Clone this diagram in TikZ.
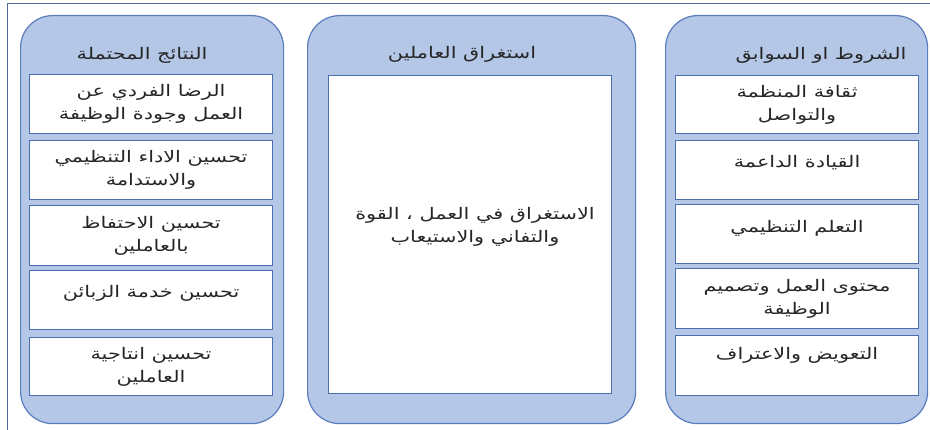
\documentclass[tikz,border=0pt]{standalone}
\usepackage{fontspec}
\newfontfamily\arabicfont[Script=Arabic,FakeStretch=1.3]{DejaVu Sans}
\TeXXeTstate=1
\newcommand{\artxt}[1]{\beginR #1\endR}
\definecolor{panelfill}{HTML}{B4C7E7}
\definecolor{panelline}{HTML}{5B7DBD}
\definecolor{boxline}{HTML}{4A6DB0}
\definecolor{frameline}{HTML}{4F6A9A}
\begin{document}
\begin{tikzpicture}[x=1pt,y=-1pt,
  panel/.style={draw=panelline, fill=panelfill, line width=1.2pt, rounded corners=32pt, anchor=north west, inner sep=0pt},
  inbox/.style={draw=boxline, fill=white, line width=1.1pt, anchor=north west, inner sep=0pt},
  artext/.style={font=\fontsize{16}{23}\selectfont\arabicfont, align=center, text=black!85},
  title/.style={font=\fontsize{16}{23}\selectfont\arabicfont, text=black!85}]
\useasboundingbox (0,0) rectangle (930,430);
\draw[frameline, line width=0.8pt] (7,440) -- (7,3) -- (940,3);
% panels
\node[panel, minimum width=263pt, minimum height=408pt] (pl) at (20,15) {};
\node[panel, minimum width=328pt, minimum height=408pt] (pm) at (307,15) {};
\node[panel, minimum width=262pt, minimum height=408pt] (pr) at (665,15) {};
% titles
\node[title] (tl) at (142,55) {\artxt{النتائج المحتملة}};
\node[title] (tm) at (462,54) {\artxt{استغراق العاملين}};
\node[title] (tr) at (821,55) {\artxt{الشروط او السوابق}};
% left boxes
\node[inbox, minimum width=243pt, minimum height=59pt] (l1) at (29,74) {};
\node[inbox, minimum width=243pt, minimum height=59pt] (l2) at (29,140) {};
\node[inbox, minimum width=243pt, minimum height=60pt] (l3) at (29,205) {};
\node[inbox, minimum width=243pt, minimum height=59pt] (l4) at (29,270) {};
\node[inbox, minimum width=243pt, minimum height=58pt] (l5) at (29,337) {};
\node[artext] (l1t) at (l1.center) {\artxt{الرضا الفردي عن}\\\artxt{العمل وجودة الوظيفة}};
\node[artext] (l2t) at (l2.center) {\artxt{تحسين الاداء التنظيمي}\\\artxt{والاستدامة}};
\node[artext] (l3t) at (l3.center) {\artxt{تحسين الاحتفاظ}\\\artxt{بالعاملين}};
\node[artext] (l4t) at ([yshift=7pt]l4.center) {\artxt{تحسين خدمة الزبائن}};
\node[artext] (l5t) at (l5.center) {\artxt{تحسين انتاجية}\\\artxt{العاملين}};
% middle box
\node[inbox, minimum width=283pt, minimum height=318pt] (m1) at (328,75) {};
\node[artext] (m1t) at (475,227) {\artxt{الاستغراق في العمل ، القوة}\\\artxt{والتفاني والاستيعاب}};
% right boxes
\node[inbox, minimum width=243pt, minimum height=58pt] (r1) at (675,75) {};
\node[inbox, minimum width=243pt, minimum height=59pt] (r2) at (675,140) {};
\node[inbox, minimum width=243pt, minimum height=59pt] (r3) at (675,204) {};
\node[inbox, minimum width=243pt, minimum height=60pt] (r4) at (675,268) {};
\node[inbox, minimum width=243pt, minimum height=60pt] (r5) at (675,335) {};
\node[artext] (r1t) at (r1.center) {\artxt{ثقافة المنظمة}\\\artxt{والتواصل}};
\node[artext] (r2t) at ([yshift=7pt]r2.center) {\artxt{القيادة الداعمة}};
\node[artext] (r3t) at ([yshift=6pt]r3.center) {\artxt{التعلم التنظيمي}};
\node[artext] (r4t) at (r4.center) {\artxt{محتوى العمل وتصميم}\\\artxt{الوظيفة}};
\node[artext] (r5t) at ([yshift=10pt]r5.center) {\artxt{التعويض والاعتراف}};
\end{tikzpicture}
\end{document}
